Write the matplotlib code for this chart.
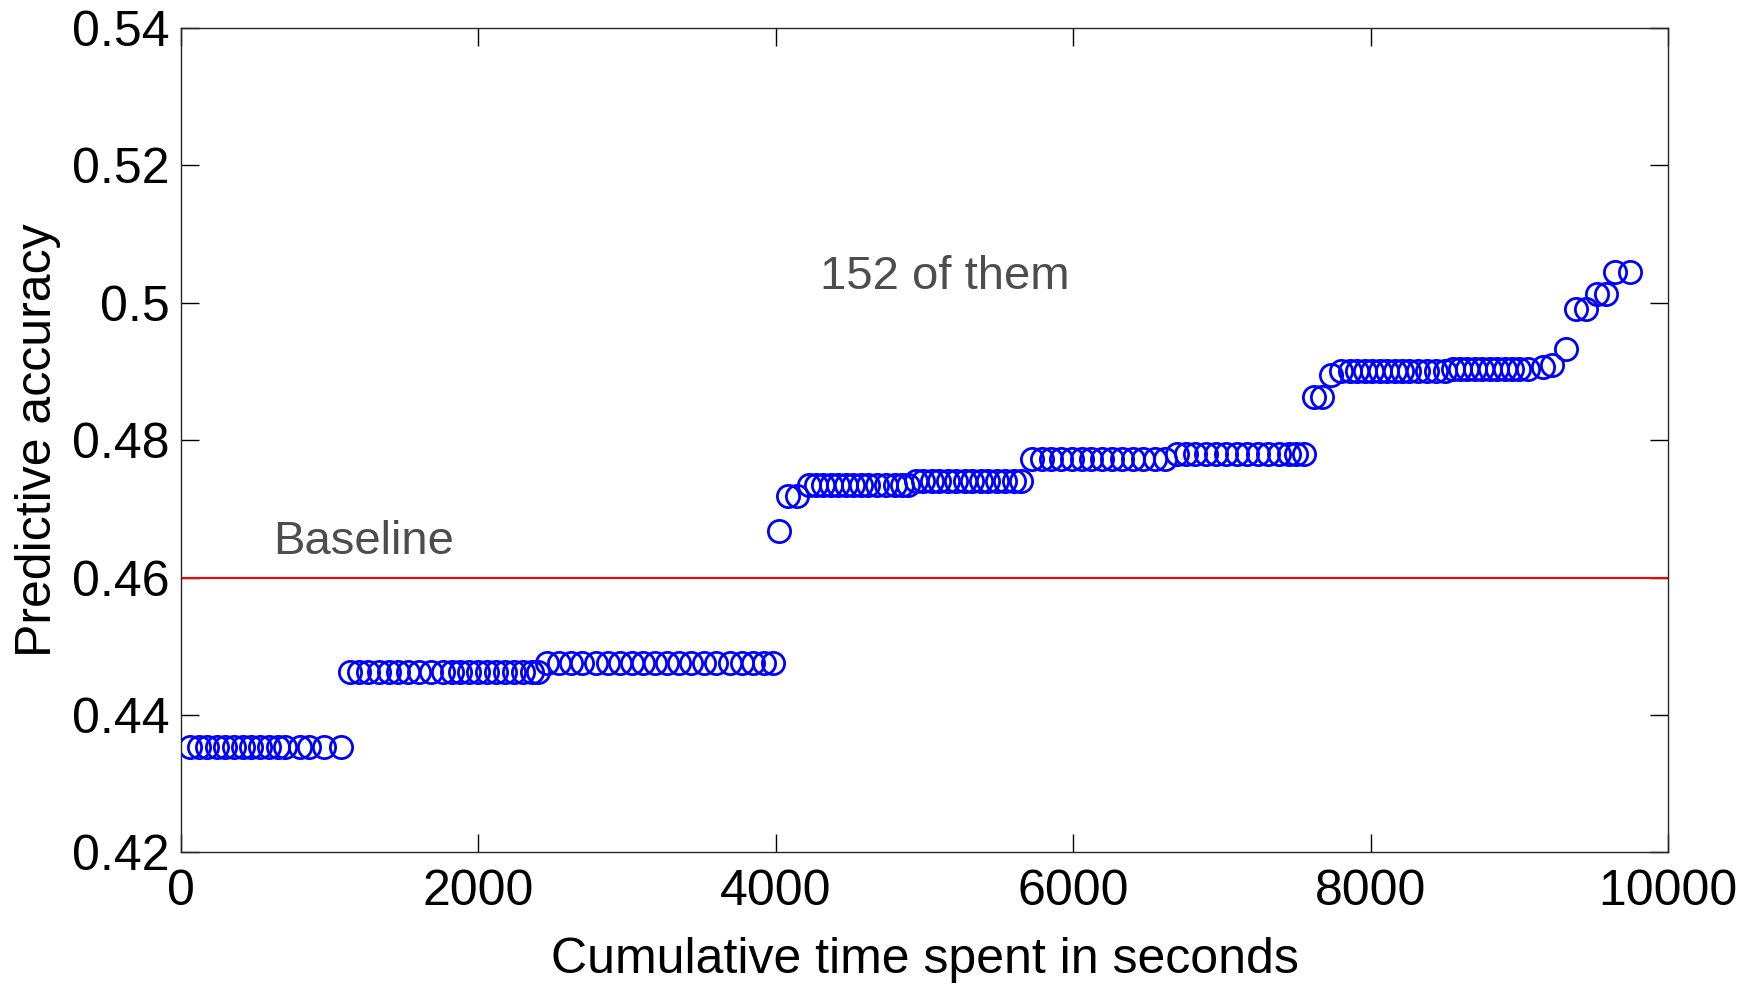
import numpy as np
import matplotlib.pyplot as plt

plt.rcParams['font.family'] = ['Liberation Sans', 'DejaVu Sans']

# cumulative time (s) at which each of the 152 models finished, and its accuracy
time_s = [
    # first plateau
    60, 120, 175, 240, 300, 360, 420, 470, 530, 590, 650, 700, 800, 860, 960, 1080,
    # second plateau
    1140, 1200, 1260, 1330, 1400, 1460, 1530, 1600, 1680, 1760, 1820, 1880, 1940,
    2000, 2060, 2120, 2180, 2240, 2300, 2360, 2400,
    # third plateau
    2460, 2540, 2620, 2700, 2790, 2870, 2950, 3030, 3110, 3190, 3270, 3350, 3430,
    3520, 3600, 3690, 3770, 3850, 3920, 3980,
    # jump past baseline
    4020, 4085, 4140,
    4220, 4270, 4320, 4370, 4420, 4470, 4520, 4570, 4620, 4680, 4740, 4800, 4850, 4890,
    4940, 4990, 5050, 5100, 5160, 5210, 5270, 5320, 5380, 5430, 5490, 5540, 5600, 5650,
    5720, 5790, 5850, 5920, 5990, 6060, 6120, 6190, 6260, 6330, 6400, 6470, 6550, 6620,
    6700, 6760, 6820, 6890, 6960, 7030, 7100, 7170, 7240, 7310, 7380, 7450, 7500, 7550,
    7620, 7670, 7730,
    7800, 7860, 7910, 7960, 8010, 8060, 8110, 8160, 8210, 8260, 8320, 8380, 8440, 8500,
    8550, 8600, 8650, 8700, 8750, 8800, 8850, 8900, 8950, 9000, 9060,
    9160, 9220, 9310, 9380, 9450, 9520, 9580, 9640, 9740,
]
accuracy = (
    [0.4353] * 16
    + [0.4462] * 21
    + [0.4475] * 20
    + [0.4667, 0.4719, 0.4719]
    + [0.4735] * 14
    + [0.4740] * 14
    + [0.4772] * 14
    + [0.4779] * 14
    + [0.4863, 0.4863, 0.4894]
    + [0.4900] * 14
    + [0.4904] * 11
    + [0.4907, 0.4909, 0.4932, 0.4990, 0.4990, 0.5013, 0.5013, 0.5044, 0.5044]
)

baseline = 0.46

fig = plt.figure(figsize=(17.56, 9.9), dpi=100)
ax = fig.add_axes([0.103, 0.139, 0.847, 0.833])

ax.plot(time_s, accuracy, 'o', mfc='none', mec='#0000ff', ms=16, mew=2)
ax.axhline(baseline, color='#ff0000', lw=1.5)

ax.text(620, 0.4652, 'Baseline', color='#4d4d4d', fontsize=34, va='center')
ax.text(4300, 0.5037, '152 of them', color='#4d4d4d', fontsize=34, va='center')

ax.set_xlim(0, 10000)
ax.set_ylim(0.42, 0.54)
ax.set_xticks(np.arange(0, 10001, 2000))
ax.set_yticks(np.arange(0.42, 0.541, 0.02))
ax.set_yticklabels(['0.42', '0.44', '0.46', '0.48', '0.5', '0.52', '0.54'])
ax.tick_params(direction='in', length=13, width=1, top=True, right=True,
               labelsize=36)
ax.tick_params(axis='x', pad=12)
ax.tick_params(axis='y', pad=8)
for s in ax.spines.values():
    s.set_linewidth(1)
    s.set_color('#262626')

ax.set_xlabel('Cumulative time spent in seconds', fontsize=36, labelpad=16)
ax.set_ylabel('Predictive accuracy', fontsize=36, labelpad=8)

fig.savefig('out.png', dpi=100)
